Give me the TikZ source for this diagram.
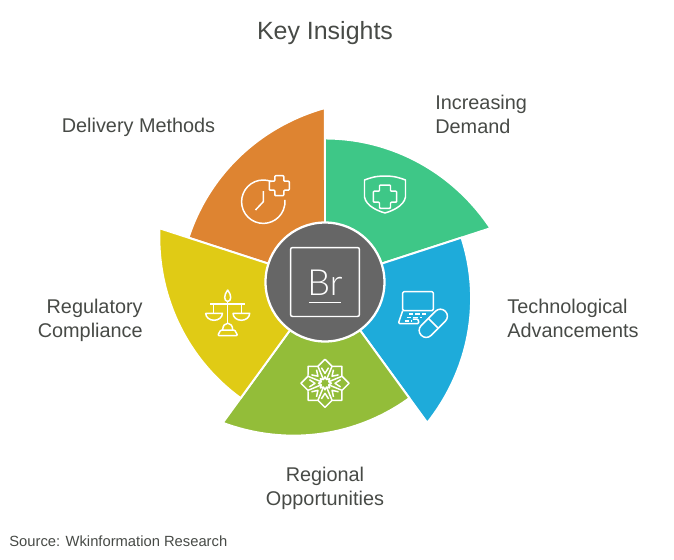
\documentclass[tikz,border=0pt]{standalone}
\usepackage{fontspec}
\setmainfont{Liberation Sans}
\newfontfamily\thinfont{Lato Light}
\definecolor{orangepetal}{HTML}{DE8431}
\definecolor{greenpetal}{HTML}{3EC787}
\definecolor{bluepetal}{HTML}{1EABDA}
\definecolor{olivepetal}{HTML}{93BD39}
\definecolor{yellowpetal}{HTML}{E0CB15}
\definecolor{hubgray}{HTML}{666666}
\definecolor{labelgray}{HTML}{474A46}

\begin{document}
\begin{tikzpicture}
	[x=0.02cm, y=0.02cm,
	label/.style={text=labelgray,font=\fontsize{11.3}{13.6}\selectfont,inner sep=0pt},
	icon/.style={draw=white,line width=0.85pt,line join=round},
	petal/.style={draw=white,line width=1.1pt,line join=miter}]
	\useasboundingbox (-325,-277) rectangle (349,282);
	% five petals, each one growing clockwise
	\foreach \start/\col in {162/orangepetal,90/greenpetal,18/bluepetal,-54/olivepetal,-126/yellowpetal}
		\filldraw[petal,fill=\col] (0,0) -- plot[domain=0:1,samples=40] ({\start-72*\x}:{143.5+30.5*\x*\x}) -- cycle;
	\node (hub) [circle,fill=hubgray,draw=white,line width=1.3pt,minimum size=2.38cm,inner sep=0pt] at (0,0) {};
	\node (frame) [rectangle,draw=white,line width=0.85pt,rounded corners=1.2pt,minimum size=1.38cm,inner sep=0pt] at (0,0) {};
	\node (br) [text=white,anchor=base,inner sep=0pt,font=\fontsize{20.5}{24}\thinfont] at (0,-13) {Br};
	\draw[icon] (-16,-20.5) -- (16,-20.5);
	% clock with plus
	\draw[icon] (-61.7,80.3) ++(68:21.7) arc (68:365:21.7);
	\draw[icon] (-61.7,91) -- (-61.7,80.3) -- (-69.5,72);
	\begin{scope}[shift={(-45.7,96.3)}]
		\draw[icon,rounded corners=0.5pt] (-4.5,10) -- (4.5,10) -- (4.5,4.5) -- (10,4.5) -- (10,-4.5) -- (4.5,-4.5) -- (4.5,-10) -- (-4.5,-10) -- (-4.5,-4.5) -- (-10,-4.5) -- (-10,4.5) -- (-4.5,4.5) -- cycle;
	\end{scope}
	% shield with cross
	\draw[icon] (60,106) .. controls (50,106) and (45,104) .. (39.5,102) -- (39.5,85) .. controls (41,76) and (53,71) .. (60,69) .. controls (67,71) and (79,76) .. (80.5,85) -- (80.5,102) .. controls (75,104) and (70,106) .. (60,106) -- cycle;
	\begin{scope}[shift={(60,85.3)}]
		\draw[icon,rounded corners=0.5pt] (-5.5,11.7) -- (5.5,11.7) -- (5.5,5.5) -- (11.7,5.5) -- (11.7,-5.5) -- (5.5,-5.5) -- (5.5,-11.7) -- (-5.5,-11.7) -- (-5.5,-5.5) -- (-11.7,-5.5) -- (-11.7,5.5) -- (-5.5,5.5) -- cycle;
	\end{scope}
	% laptop with pill
	\draw[icon,rounded corners=0.7pt] (77.7,-28.7) rectangle (108.3,-9.7);
	\draw[icon,rounded corners=0.7pt] (77.7,-28.7) -- (73.3,-41.5) -- (94,-41.5) -- (93,-37) -- (88,-37);
	\draw[icon,dash pattern=on 2.4pt off 1.3pt] (84,-32) -- (102,-32);
	\draw[icon,dash pattern=on 2.4pt off 1.3pt] (82,-35.5) -- (97,-35.5);
	\draw[icon,dash pattern=on 2.4pt off 1.3pt] (80,-39) -- (87,-39);
	\begin{scope}[shift={(108.3,-41.3)},rotate=45]
		\draw[icon,rounded corners=3.9pt] (-17,-7) rectangle (17,7);
		\draw[icon] (0,-7) -- (0,7);
	\end{scope}
	% eight pointed star
	\begin{scope}[shift={(0,-101.3)}]
		\draw[icon] (0:24) \foreach \a in {0,45,...,315} {-- (\a:24) -- (\a+22.5:18.4)} -- cycle;
		\draw[icon] (0:6.5) \foreach \a in {0,45,...,315} {-- (\a:6.5) -- (\a+22.5:4)} -- cycle;
		\foreach \a in {0,45,...,315} {
			\draw[icon] (\a+22.5:4) -- (\a+22.5:18.4);
			\draw[icon] (\a-13:16) -- (\a:10) -- (\a+13:16);
		}
	\end{scope}
	% scales
	\begin{scope}[shift={(-97.3,0)}]
		\draw[icon] (0,-8) .. controls (-4,-13) and (-4,-19) .. (0,-19.5) .. controls (4,-19) and (4,-13) .. (0,-8) -- cycle;
		\draw[icon] (0,-19.5) -- (0,-41.3);
		\draw[icon] (-17.5,-22) -- (17.5,-22);
		\draw[icon] (-14,-22) -- (-14,-31.3);
		\draw[icon] (14,-22) -- (14,-31.3);
		\draw[icon] (-22,-31.3) -- (-5.3,-31.3) arc (0:-180:8.35 and 7) -- cycle;
		\draw[icon] (5.3,-31.3) -- (22,-31.3) arc (0:-180:8.35 and 7) -- cycle;
		\draw[icon] (-5,-48) .. controls (-5,-39) and (5,-39) .. (5,-48);
		\draw[icon,rounded corners=0.6pt] (-10,-53.5) -- (-7,-48) -- (7,-48) -- (10,-53.5) -- cycle;
	\end{scope}
	% title, labels and source line
	\node (title) [text=labelgray,font=\fontsize{14.2}{17}\selectfont,inner sep=0pt] at (0,249) {Key Insights};
	\node (delivery) [label,anchor=base west] at (-263.5,150) {Delivery Methods};
	\node (demand) [label,align=left,anchor=base west] at (110,149) {Increasing\\Demand};
	\node (tech) [label,align=left,anchor=base west] at (182,-55) {Technological\\Advancements};
	\node (regional) [label,align=center,anchor=base] at (0,-223) {Regional\\Opportunities};
	\node (compliance) [label,align=right,anchor=base east] at (-182,-55) {Regulatory\\Compliance};
	\node (source) [text=labelgray,font=\fontsize{8.4}{10}\selectfont,inner sep=0pt,anchor=base west] at (-316,-264) {Source: Wkinformation Research};
\end{tikzpicture}
\end{document}
